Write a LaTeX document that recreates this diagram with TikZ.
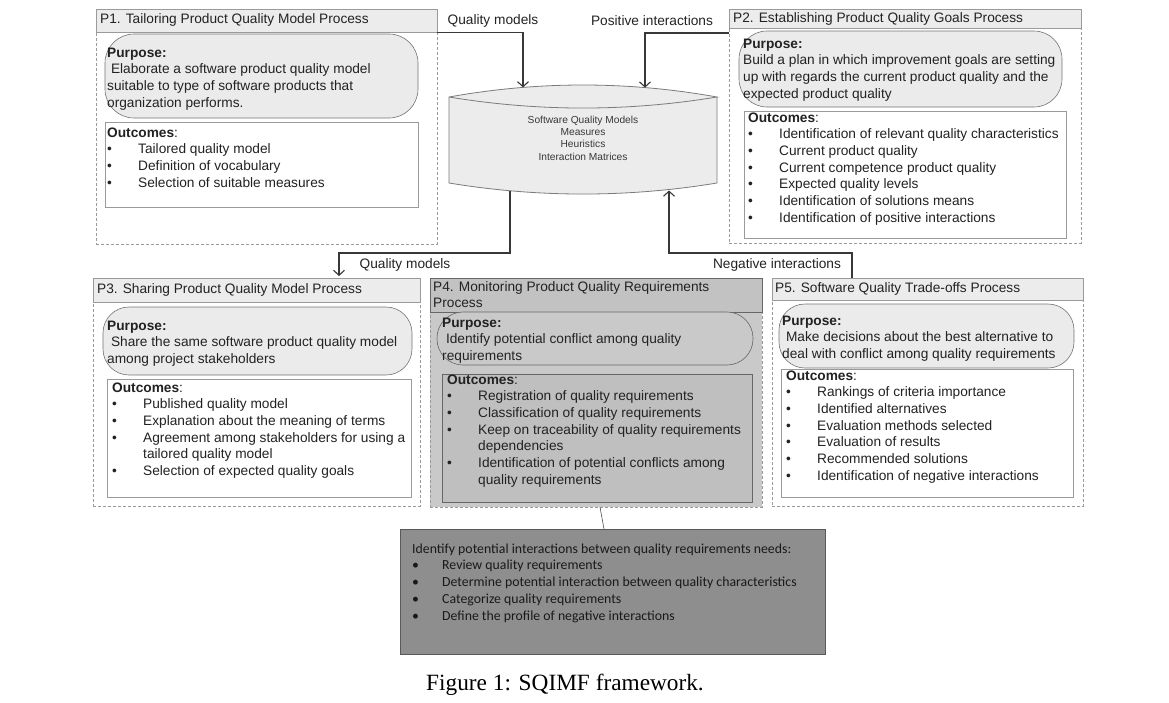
\documentclass[tikz,border=0pt]{standalone}
\usepackage{fontspec}
\setmainfont{Liberation Sans}
\newfontfamily\calfont{Carlito}
\newfontfamily\serfont{Liberation Serif}
\usetikzlibrary{arrows.meta,fit}
\definecolor{titlefill}{HTML}{ECECEC}
\definecolor{purpfill}{HTML}{EBEBEB}
\definecolor{darkfill}{HTML}{C9C9C9}
\definecolor{darktitle}{HTML}{C2C2C2}
\definecolor{notefill}{HTML}{8E8E8E}
\definecolor{edge}{HTML}{9A9A9A}
\definecolor{ink}{HTML}{222222}
\newcommand{\bl}[1]{\makebox[31pt][l]{\textbullet}#1}
\newcommand{\cn}{\hspace*{31pt}}
\begin{document}
\begin{tikzpicture}[x=1pt,y=-1pt,
  txt/.style={inner sep=0pt,anchor=north west,align=left,text=ink,font={\fontsize{13.7}{16.7}\selectfont}},
  lbl/.style={inner sep=0pt,text=ink,font={\fontsize{13.7}{16.7}\selectfont}},
  titlebox/.style={draw=edge,fill=titlefill,line width=0.7pt,inner sep=0pt},
  outerbox/.style={draw=edge,densely dashed,line width=0.6pt,inner sep=0pt},
  purpbox/.style={draw=gray!90!black,fill=purpfill,line width=0.6pt,rounded corners=26pt,inner sep=0pt},
  outbox/.style={draw=edge,fill=white,line width=0.7pt,inner sep=0pt},
  conn/.style={draw=ink!90,line width=1.1pt},
  tip/.style={-{Straight Barb[length=5pt,width=11pt,line width=1.1pt]}}
]
\useasboundingbox (0,0) rectangle (1169,702);

% ---------- P1 ----------
\node[outerbox,fit={(96,32) (437,244)}] (p1outer) {};
\node[titlebox,fit={(96,9) (437,32)}] (p1title) {};
\node[lbl,anchor=west] (p1t) at (100,20) {P1. Tailoring Product Quality Model Process};
\node[purpbox,rounded corners=29pt,fit={(105,34) (418,118)}] (p1purp) {};
\node[txt] (p1pt) at (107,45.3) {\strut\textbf{Purpose:}\\\hspace*{3.8pt}Elaborate a software product quality model\\suitable to type of software products that\\organization performs.};
\node[outbox,fit={(105,122) (418,207)}] (p1out) {};
\node[txt] (p1ot) at (107,125.3) {\strut\textbf{Outcomes}:\\\bl{Tailored quality model}\\\bl{Definition of vocabulary}\\\bl{Selection of suitable measures}};

% ---------- P2 ----------
\node[outerbox,fit={(729,28) (1081,243)}] (p2outer) {};
\node[titlebox,fit={(729,9) (1081,28)}] (p2title) {};
\node[lbl,anchor=west] (p2t) at (733,18.5) {P2. Establishing Product Quality Goals Process};
\node[purpbox,rounded corners=28pt,fit={(739,31) (1062,107)}] (p2purp) {};
\node[txt] (p2pt) at (743,36.3) {\strut\textbf{Purpose:}\\Build a plan in which improvement goals are setting\\up with regards the current product quality and the\\expected product quality};
\node[outbox,fit={(744,111) (1066,238)}] (p2out) {};
\node[txt] (p2ot) at (748,110.3) {\strut\textbf{Outcomes}:\\\bl{Identification of relevant quality characteristics}\\\bl{Current product quality}\\\bl{Current competence product quality}\\\bl{Expected quality levels}\\\bl{Identification of solutions means}\\\bl{Identification of positive interactions}};

% ---------- Repository (cylinder) ----------
\fill[titlefill] (449,97) .. controls (538.3,81) and (627.7,81) .. (717,97) -- (717,183)
  .. controls (627.7,197.7) and (538.3,197.7) .. (449,183) -- cycle;
\draw[edge!80!black,line width=0.8pt] (449,97) .. controls (538.3,81) and (627.7,81) .. (717,97)
  .. controls (627.7,111.7) and (538.3,111.7) .. (449,97) -- (449,183)
  .. controls (538.3,197.7) and (627.7,197.7) .. (717,183) -- (717,97);
\node[inner sep=0pt,align=center,text=ink!90,font={\fontsize{10.2}{12.3}\selectfont}] (db) at (583,138)
  {Software Quality Models\\Measures\\Heuristics\\Interaction Matrices};
\coordinate (dbA) at (523,87.4);
\coordinate (dbB) at (645,87.6);
\coordinate (dbC) at (510,190.7);
\coordinate (dbD) at (669,190.5);

% ---------- P3 ----------
\node[outerbox,fit={(93,302) (420,506)}] (p3outer) {};
\node[titlebox,fit={(93,278) (420,302)}] (p3title) {};
\node[lbl,anchor=west] (p3t) at (97,290) {P3. Sharing Product Quality Model Process};
\node[purpbox,fit={(103,307) (412,375)}] (p3purp) {};
\node[txt] (p3pt) at (107,318.3) {\strut\textbf{Purpose:}\\\hspace*{3.8pt}Share the same software product quality model\\among project stakeholders};
\node[outbox,fit={(107,379) (411,497)}] (p3out) {};
\node[txt] (p3ot) at (112,380.3) {\strut\textbf{Outcomes}:\\\bl{Published quality model}\\\bl{Explanation about the meaning of terms}\\\bl{Agreement among stakeholders for using a}\\\cn tailored quality model\\\bl{Selection of expected quality goals}};

% ---------- P4 ----------
\node[outerbox,fill=darkfill,fit={(430,278) (762,507)}] (p4outer) {};
\node[titlebox,fill=darktitle,draw=gray!80!black,fit={(430,278) (762,312)}] (p4title) {};
\node[txt] (p4t) at (433,279.3) {\strut P4. Monitoring Product Quality Requirements\\Process};
\node[purpbox,fill=darkfill,draw=gray!80!black,rounded corners=26pt,fit={(437,312) (753,365)}] (p4purp) {};
\node[txt] (p4pt) at (442,315.3) {\strut\textbf{Purpose:}\\\hspace*{3.8pt}Identify potential conflict among quality\\requirements};
\node[outbox,fill=darkfill!95!black,draw=gray!80!black,fit={(442,374) (752,502)}] (p4out) {};
\node[txt] (p4ot) at (447,372.3) {\strut\textbf{Outcomes}:\\\bl{Registration of quality requirements}\\\bl{Classification of quality requirements}\\\bl{Keep on traceability of quality requirements}\\\cn dependencies\\\bl{Identification of potential conflicts among}\\\cn quality requirements};

% ---------- P5 ----------
\node[outerbox,fit={(772,300) (1083,506)}] (p5outer) {};
\node[titlebox,fit={(772,278) (1083,300)}] (p5title) {};
\node[lbl,anchor=west] (p5t) at (775,289) {P5. Software Quality Trade-offs Process};
\node[purpbox,fit={(779,304) (1074,368)}] (p5purp) {};
\node[txt] (p5pt) at (782,313.3) {\strut\textbf{Purpose:}\\\hspace*{3.8pt}Make decisions about the best alternative to\\deal with conflict among quality requirements};
\node[outbox,fit={(781,369) (1073,497)}] (p5out) {};
\node[txt] (p5ot) at (786,368.3) {\strut\textbf{Outcomes}:\\\bl{Rankings of criteria importance}\\\bl{Identified alternatives}\\\bl{Evaluation methods selected}\\\bl{Evaluation of results}\\\bl{Recommended solutions}\\\bl{Identification of negative interactions}};

% ---------- Note ----------
\node[draw=gray!70!black,fill=notefill,line width=0.6pt,inner sep=0pt,fit={(400,529) (825,654)}] (note) {};
\node[txt,font={\calfont\fontsize{13.8}{16.7}\selectfont},text=black!90] (notet) at (412,541.3)
  {\strut Identify potential interactions between quality requirements needs:\\\makebox[30pt][l]{\textbullet}Review quality requirements\\\makebox[30pt][l]{\textbullet}Determine potential interaction between quality characteristics\\\makebox[30pt][l]{\textbullet}Categorize quality requirements\\\makebox[30pt][l]{\textbullet}Define the profile of negative interactions};
\coordinate (p4b) at (600,507);
\coordinate (nt) at (604,529);
\draw[gray!60!black,line width=0.6pt] (p4b) -- (nt);

% ---------- Connectors ----------
\coordinate (qmA) at (437,32.7);
\coordinate (piA) at (729,33);
\draw[conn,tip] (qmA) -| (dbA);
\draw[conn,tip] (piA) -| (dbB);
\node[lbl] (lqm1) at (493,21) {Quality models};
\node[lbl] (lpi) at (652,21) {Positive interactions};

\coordinate (qmB) at (339,253);
\coordinate (p3in) at (339,276);
\draw[conn,tip] (dbC) |- (qmB) -- (p3in);
\node[lbl] (lqm2) at (405,265) {Quality models};

\coordinate (niA) at (852,278);
\coordinate (niB) at (852,253);
\draw[conn,tip] (niA) -- (niB) -| (dbD);
\node[lbl] (lni) at (777,265) {Negative interactions};

% ---------- Caption ----------
\node[inner sep=0pt,font={\serfont\fontsize{23.3}{28}\selectfont}] (cap) at (565,685) {Figure 1: SQIMF framework.};
\end{tikzpicture}
\end{document}
